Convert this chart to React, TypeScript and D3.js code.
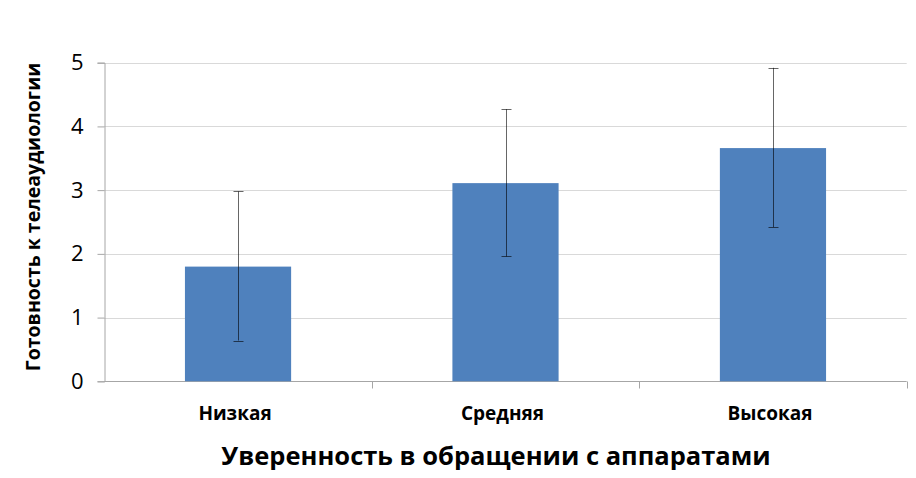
import { useEffect, useRef } from "react";
import * as d3 from "d3";

const categories = ["Низкая", "Средняя", "Высокая"];
const means = [1.8, 3.11, 3.66];
const errUpper = [2.98, 4.27, 4.92];
const errLower = [0.64, 1.96, 2.42];
const yTicks = [0, 1, 2, 3, 4, 5];

const xTitle = "Уверенность в обращении с аппаратами";
const yTitle = "Готовность к телеаудиологии";

const FONT = "'Open Sans', 'DejaVu Sans', sans-serif";

export default function App() {
    const ref = useRef<SVGSVGElement | null>(null);

    useEffect(() => {
        if (!ref.current) return;
        const svg = d3.select(ref.current);
        svg.selectAll("*").remove();

        const width = 916;
        const height = 478;
        const margin = { top: 62.7, right: 9.3, bottom: 96.7, left: 104.3 };

        const x = d3
            .scaleBand<string>()
            .domain(categories)
            .range([margin.left, width - margin.right])
            .paddingInner(0.603)
            .paddingOuter(0.3015);

        const y = d3
            .scaleLinear()
            .domain([0, 5])
            .range([height - margin.bottom, margin.top]);

        // gridlines
        svg
            .append("g")
            .selectAll("line")
            .data(yTicks.filter(t => t > 0))
            .enter()
            .append("line")
            .attr("x1", margin.left)
            .attr("x2", width - margin.right)
            .attr("y1", d => Math.round(y(d)) + 0.5)
            .attr("y2", d => Math.round(y(d)) + 0.5)
            .attr("stroke", "#d9d9d9");

        // y axis
        const yAxis = svg
            .append("g")
            .attr("transform", `translate(${Math.round(margin.left) + 0.5},0)`)
            .call(d3.axisLeft(y).tickValues(yTicks).tickSize(7).tickPadding(14).tickFormat(d3.format("d")));
        yAxis.select(".domain").attr("stroke", "#a6a6a6");
        yAxis.selectAll(".tick line").attr("stroke", "#a6a6a6");
        yAxis
            .selectAll(".tick text")
            .attr("fill", "#000")
            .style("font-family", FONT)
            .style("font-size", "22px");

        // x axis with category boundary ticks
        const base = Math.round(y(0)) + 0.5;
        svg
            .append("line")
            .attr("x1", margin.left)
            .attr("x2", width - margin.right)
            .attr("y1", base)
            .attr("y2", base)
            .attr("stroke", "#a6a6a6");
        const bandW = (width - margin.right - margin.left) / categories.length;
        svg
            .append("g")
            .selectAll("line")
            .data(categories.map((_, i) => margin.left + bandW * (i + 1)))
            .enter()
            .append("line")
            .attr("x1", d => Math.round(d) + 0.5)
            .attr("x2", d => Math.round(d) + 0.5)
            .attr("y1", base)
            .attr("y2", base + 7)
            .attr("stroke", "#a6a6a6");

        // bars
        svg
            .append("g")
            .selectAll("rect")
            .data(means)
            .enter()
            .append("rect")
            .attr("x", (_, i) => x(categories[i])!)
            .attr("width", x.bandwidth())
            .attr("y", d => y(d))
            .attr("height", d => y(0) - y(d))
            .attr("fill", "#4f81bd");

        // error bars
        const eg = svg.append("g").attr("stroke", "#000").attr("stroke-opacity", 0.6).attr("stroke-width", 1);
        categories.forEach((c, i) => {
            const cx = Math.round(x(c)! + x.bandwidth() / 2) + 0.5;
            eg.append("line").attr("x1", cx).attr("x2", cx).attr("y1", y(errUpper[i])).attr("y2", y(errLower[i]));
            [errUpper[i], errLower[i]].forEach(v => {
                eg.append("line")
                    .attr("x1", cx - 5)
                    .attr("x2", cx + 5)
                    .attr("y1", Math.round(y(v)) + 0.5)
                    .attr("y2", Math.round(y(v)) + 0.5);
            });
        });

        // category labels
        svg
            .append("g")
            .selectAll("text")
            .data(categories)
            .enter()
            .append("text")
            .attr("x", d => x(d)! + x.bandwidth() / 2 - 3)
            .attr("y", 420)
            .attr("text-anchor", "middle")
            .style("font-family", FONT)
            .style("font-size", "19px")
            .style("font-weight", "bold")
            .text(d => d);

        // axis titles
        svg
            .append("text")
            .attr("x", 496)
            .attr("y", 465)
            .attr("text-anchor", "middle")
            .style("font-family", FONT)
            .style("font-size", "25.5px")
            .style("font-weight", "bold")
            .text(xTitle);

        svg
            .append("text")
            .attr("transform", `translate(40,217) rotate(-90)`)
            .attr("text-anchor", "middle")
            .style("font-family", FONT)
            .style("font-size", "19.5px")
            .style("font-weight", "bold")
            .text(yTitle);
    }, []);

    return (
        <div style={{ margin: -8 }}>
            <svg ref={ref} width={916} height={478} style={{ display: "block", background: "#fff" }} />
        </div>
    );
}
